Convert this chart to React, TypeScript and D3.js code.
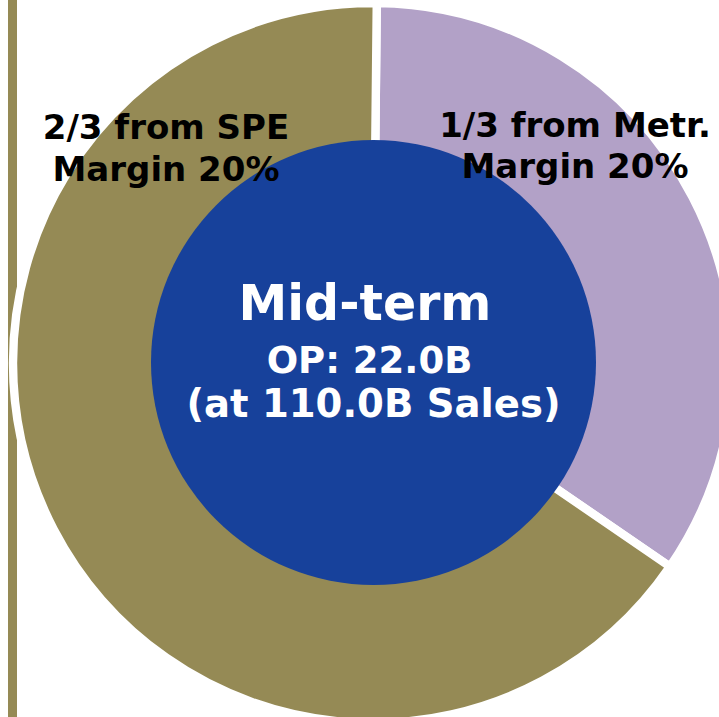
import React from "react";
import * as d3 from "d3";

const segmentNames = ["1/3 from Metr.", "2/3 from SPE"];
const segmentShares = [34.4, 65.6];
const segmentLine2 = ["Margin 20%", "Margin 20%"];
const centerLines = ["Mid-term", "OP: 22.0B", "(at 110.0B Sales)"];

const COLORS = ["#B2A1C7", "#958A55"];
const BLUE = "#17419B";

export default function App() {
  const W = 719;
  const H = 717;
  const cx = 373;
  const cy = 363;
  const R = 360;
  const startDeg = 0.6;
  const toRad = (d: number) => (d * Math.PI) / 180;

  const pie = d3
    .pie<number>()
    .sort(null)
    .value((d) => d)
    .startAngle(toRad(startDeg))
    .endAngle(toRad(startDeg + 360));
  const arcs = pie(segmentShares);
  const arcGen = d3.arc<d3.PieArcDatum<number>>().innerRadius(0).outerRadius(R);

  const font = "'DejaVu Sans', Verdana, sans-serif";

  const labelPos = [
    { x: 575, y1: 137, y2: 178 },
    { x: 166, y1: 139, y2: 181 },
  ];
  const centerPos = [
    { x: 365, y: 320, size: 49 },
    { x: 369.5, y: 373, size: 37 },
    { x: 373.5, y: 417, size: 38.6 },
  ];

  return (
    <svg
      width={W}
      height={H}
      style={{ position: "fixed", left: 0, top: 0, background: "#fff" }}
    >
      <rect x={8} y={0} width={9} height={H} fill={COLORS[1]} />
      <g transform={`translate(${cx},${cy})`}>
        {arcs.map((a, i) => (
          <path
            key={i}
            d={arcGen(a) || ""}
            fill={COLORS[i]}
            stroke="#fff"
            strokeWidth={8.4}
            strokeLinejoin="miter"
          />
        ))}
      </g>
      <circle cx={373.5} cy={362.5} r={222.5} fill={BLUE} />
      {segmentNames.map((name, i) => (
        <text
          key={i}
          textAnchor="middle"
          fontFamily={font}
          fontWeight="bold"
          fontSize={34}
          fill="#000"
        >
          <tspan x={labelPos[i].x} y={labelPos[i].y1}>
            {name}
          </tspan>
          <tspan x={labelPos[i].x} y={labelPos[i].y2}>
            {segmentLine2[i]}
          </tspan>
        </text>
      ))}
      {centerLines.map((t, i) => (
        <text
          key={i}
          x={centerPos[i].x}
          y={centerPos[i].y}
          textAnchor="middle"
          fontFamily={font}
          fontWeight="bold"
          fontSize={centerPos[i].size}
          fill="#fff"
        >
          {t}
        </text>
      ))}
    </svg>
  );
}
